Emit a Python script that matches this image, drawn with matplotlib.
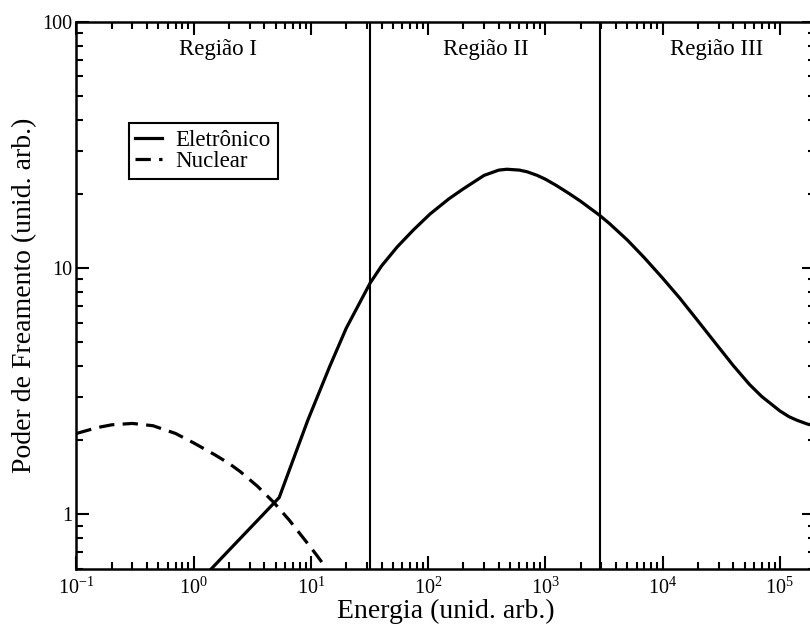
"""Poder de freamento eletrônico e nuclear vs energia (log-log), três regiões."""

import matplotlib

matplotlib.use("Agg")
import matplotlib.pyplot as plt
from matplotlib.ticker import NullFormatter

plt.rcParams["font.family"] = ["Liberation Serif", "DejaVu Serif"]
plt.rcParams["mathtext.fontset"] = "custom"
plt.rcParams["mathtext.rm"] = "Liberation Serif"
plt.rcParams["mathtext.it"] = "Liberation Serif:italic"

# valores
ELEC_E = [1.41, 2.0, 3.0, 4.0, 5.36, 6.5, 9.4, 14.5, 20, 32, 40, 54.5, 75, 104,
          150, 200, 300, 400, 469, 600, 700, 850, 1000, 1250, 1600, 2000, 2890,
          3500, 5000, 7000, 1e4, 1.4e4, 2e4, 2.8e4, 4e4, 5.5e4, 7e4, 1e5, 1.2e5,
          1.4e5, 1.7e5, 2e5]
ELEC_S = [0.60, 0.715, 0.875, 1.01, 1.17, 1.50, 2.41, 4.0, 5.7, 8.7, 10.2, 12.2,
          14.3, 16.6, 19.1, 21.0, 23.8, 25.0, 25.2, 25.0, 24.6, 23.8, 22.96, 21.6,
          20.05, 18.67, 16.4, 15.2, 13.0, 11.0, 9.1, 7.55, 6.1, 4.98, 4.02, 3.37,
          3.01, 2.63, 2.49, 2.41, 2.33, 2.28]

NUC_E = [0.1, 0.15, 0.2, 0.3, 0.45, 0.7, 1.0, 1.5, 2.0, 2.5, 3.5, 4.8, 6.5, 9.2,
         11, 13]
NUC_S = [2.13, 2.25, 2.31, 2.34, 2.29, 2.13, 1.95, 1.75, 1.61, 1.49, 1.30, 1.12,
         0.95, 0.77, 0.69, 0.62]

REGION_BOUNDS = [32, 2900]
REGION_LABELS = ["Região I", "Região II", "Região III"]
REGION_X = [0.192, 0.554, 0.866]  # posição (fração do eixo)

XTICKS = [1e-1, 1e0, 1e1, 1e2, 1e3, 1e4, 1e5]
XTICK_LABELS = [r"$10^{-1}$", r"$10^{0}$", r"$10^{1}$", r"$10^{2}$",
                r"$10^{3}$", r"$10^{4}$", r"$10^{5}$"]
YTICKS = [1, 10, 100]
YTICK_LABELS = ["1", "10", "100"]


def main() -> None:
    fig = plt.figure(figsize=(8.10, 6.26), dpi=100)
    ax = fig.add_axes([0.0944, 0.0911, 0.912, 0.874])

    ax.plot(ELEC_E, ELEC_S, color="black", lw=2.3, label="Eletrônico")
    ax.plot(NUC_E, NUC_S, color="black", lw=2.3, dashes=(4.8, 2.6), label="Nuclear")
    for xb in REGION_BOUNDS:
        ax.axvline(xb, color="black", lw=1.5)

    ax.set_xscale("log")
    ax.set_yscale("log")
    ax.set_xlim(0.1, 2e5)
    ax.set_ylim(0.6, 100)

    ax.set_xticks(XTICKS)
    ax.set_xticklabels(XTICK_LABELS, fontsize=14.5)
    ax.set_yticks(YTICKS)
    ax.set_yticklabels(YTICK_LABELS, fontsize=14.5)
    ax.yaxis.set_minor_formatter(NullFormatter())
    ax.xaxis.set_minor_formatter(NullFormatter())

    ax.tick_params(which="both", direction="in", top=True, right=True, width=1.5)
    ax.tick_params(axis="x", pad=6)
    ax.tick_params(axis="y", pad=3)
    ax.tick_params(which="major", length=9.5)
    ax.tick_params(which="minor", length=5)
    for sp in ax.spines.values():
        sp.set_linewidth(1.8)

    ax.set_xlabel("Energia (unid. arb.)", fontsize=20, labelpad=0)
    ax.set_ylabel("Poder de Freamento (unid. arb.)", fontsize=20)
    ax.yaxis.set_label_coords(-0.053, 0.5)

    for lab, xf in zip(REGION_LABELS, REGION_X):
        ax.text(xf, 0.949, lab, transform=ax.transAxes, ha="center", va="center",
                fontsize=16.5)

    leg = ax.legend(loc="upper left", bbox_to_anchor=(0.0705, 0.815),
                    borderaxespad=0, fontsize=16.5, handlelength=1.15,
                    handletextpad=0.6, labelspacing=0.0, borderpad=0.3,
                    fancybox=False, framealpha=1, edgecolor="black")
    leg.get_frame().set_linewidth(1.5)

    fig.savefig("out.png", dpi=100)
    plt.close(fig)


if __name__ == "__main__":
    main()
